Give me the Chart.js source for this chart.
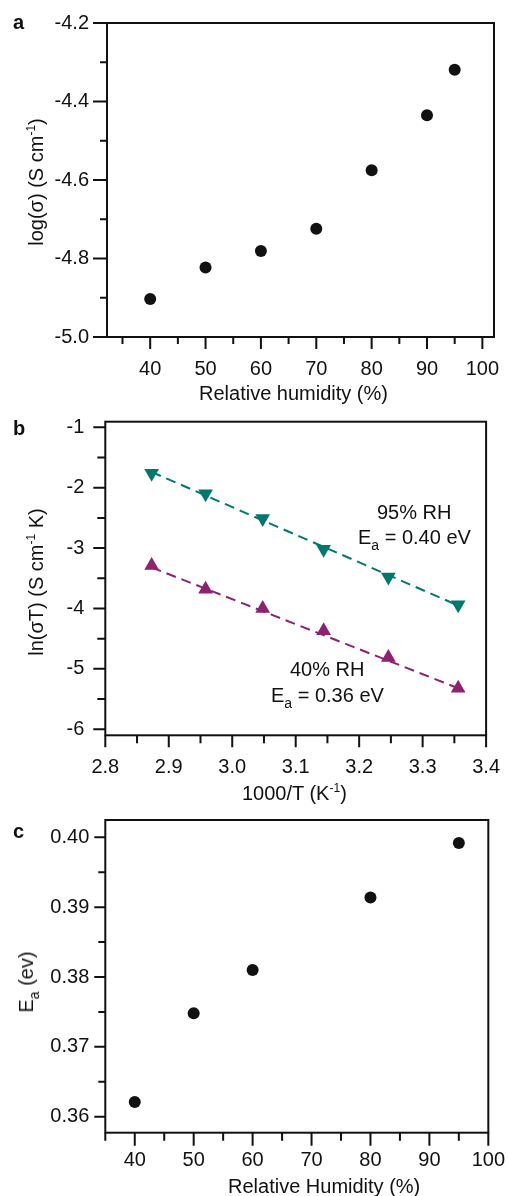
<!DOCTYPE html>
<html>
<head>
<meta charset="utf-8">
<script src="https://cdn.jsdelivr.net/npm/chart.js@4.4.1/dist/chart.umd.min.js"></script>
<style>
  body { margin: 0; background: #fff; font-family: 'Liberation Sans', Arial, sans-serif; color: #111; }
  #page { position: relative; width: 508px; height: 1196px; overflow: hidden; background: #fff; }
  canvas { position: absolute; left: 0; }
  .t { position: absolute; font-size: 20px; line-height: 24px; white-space: nowrap; }
  .rot { transform: translate(-50%, -50%) rotate(-90deg); }
  .lab { position: absolute; font-weight: bold; font-size: 20px; line-height: 24px; }
  sup { font-size: 12px; vertical-align: 8px; line-height: 0; }
  sub { font-size: 14px; vertical-align: -6px; line-height: 0; }
</style>
</head>
<body>
<div id="page">
  <canvas id="chartA" width="508" height="400" style="top:0px"></canvas>
  <canvas id="chartB" width="508" height="400" style="top:400px"></canvas>
  <canvas id="chartC" width="508" height="396" style="top:800px"></canvas>

  <div class="lab" style="left:13px; top:10px">a</div>
  <div class="lab" style="left:13px; top:416px">b</div>
  <div class="lab" style="left:13px; top:819px">c</div>

  <!-- axis titles -->
  <div class="t rot" style="left:36px; top:182px">log(&sigma;) (S cm<sup>-1</sup>)</div>
  <div class="t" style="left:199px; top:381px">Relative humidity (%)</div>

  <div class="t rot" style="left:36px; top:582px">ln(&sigma;T) (S cm<sup>-1</sup> K)</div>
  <div class="t" style="left:242px; top:781px">1000/T (K<sup>-1</sup>)</div>

  <div class="t rot" style="left:26px; top:982px">E<sub>a</sub> (ev)</div>
  <div class="t" style="left:228px; top:1174px">Relative Humidity (%)</div>

  <!-- panel b notes -->
  <div class="t" style="left:377px; top:500px">95% RH</div>
  <div class="t" style="left:358px; top:525px">E<sub>a</sub> = 0.40 eV</div>
  <div class="t" style="left:290px; top:657px">40% RH</div>
  <div class="t" style="left:271px; top:683px">E<sub>a</sub> = 0.36 eV</div>
</div>

<script>
// panel a: log(sigma) vs RH
const rhA = [40, 50, 60, 70, 80, 90, 95];
const logSigma = [-4.903, -4.823, -4.781, -4.724, -4.575, -4.435, -4.319];

// panel b: Arrhenius plot
const invT = [2.873, 2.958, 3.048, 3.144, 3.246, 3.356];
const lnSigmaT95 = [-1.76, -2.10, -2.51, -3.02, -3.48, -3.94];
const lnSigmaT40 = [-3.29, -3.68, -4.00, -4.37, -4.81, -5.32];
// dashed fit lines, end points
const fitX = [2.873, 3.356];
const fit95 = [-1.74, -3.95];
const fit40 = [-3.32, -5.32];

// panel c: Ea vs RH
const rhC = [40, 50, 60, 80, 95];
const ea = [0.3621, 0.3748, 0.3810, 0.3914, 0.3992];

const ink = '#111';
const teal = 'rgb(0, 120, 108)';
const plum = 'rgb(142, 33, 112)';
const tickFont = { family: "'Liberation Sans', Arial, sans-serif", size: 20 };

function pts(xs, ys) {
    return xs.map((x, i) => ({ x: x, y: ys[i] }));
}

function isMajor(v, step) {
    const r = v / step;
    return Math.abs(r - Math.round(r)) < 1e-6;
}

// frame + tick marks (major / minor) drawn from the scales
const frameTicks = {
    id: 'frameTicks',
    afterDraw(chart, args, opts) {
        const { ctx, chartArea: a } = chart;
        const x = chart.scales.x, y = chart.scales.y;
        ctx.save();
        ctx.strokeStyle = ink;
        ctx.lineWidth = 2;
        ctx.strokeRect(a.left, a.top, a.right - a.left, a.bottom - a.top);
        ctx.beginPath();
        x.ticks.forEach(t => {
            const px = x.getPixelForValue(t.value);
            const len = isMajor(t.value, opts.xStep) ? opts.xMajorLen : opts.xMinorLen;
            ctx.moveTo(px, a.bottom);
            ctx.lineTo(px, a.bottom + len);
        });
        y.ticks.forEach(t => {
            const py = y.getPixelForValue(t.value);
            const len = isMajor(t.value, opts.yStep) ? opts.yMajorLen : opts.yMinorLen;
            ctx.moveTo(a.left, py);
            ctx.lineTo(a.left - len, py);
        });
        ctx.stroke();
        ctx.restore();
    }
};

function xScale(min, max, step, major, dec, tickLen, pad, h) {
    return {
        type: 'linear', min: min, max: max,
        grid: { display: true, drawOnChartArea: false, drawTicks: true, tickLength: tickLen, tickColor: 'rgba(0,0,0,0)' },
        border: { display: false },
        ticks: {
            stepSize: step, includeBounds: false, autoSkip: false, maxRotation: 0,
            padding: pad, color: ink, font: tickFont,
            callback: v => isMajor(v, major) ? v.toFixed(dec) : ''
        },
        afterFit: s => { s.height = h; }
    };
}

function yScale(min, max, step, major, dec, tickLen, pad, w) {
    return {
        type: 'linear', min: min, max: max,
        grid: { display: true, drawOnChartArea: false, drawTicks: true, tickLength: tickLen, tickColor: 'rgba(0,0,0,0)' },
        border: { display: false },
        ticks: {
            stepSize: step, includeBounds: false, autoSkip: false,
            padding: pad, color: ink, font: tickFont,
            callback: v => isMajor(v, major) ? v.toFixed(dec) : ''
        },
        afterFit: s => { s.width = w; }
    };
}

const baseOpts = {
    responsive: false,
    animation: false,
    devicePixelRatio: 1,
};

// Panel a
new Chart(document.getElementById('chartA').getContext('2d'), {
    type: 'scatter',
    data: {
        datasets: [{
            data: pts(rhA, logSigma),
            pointRadius: 6,
            backgroundColor: ink,
            borderWidth: 0
        }]
    },
    options: Object.assign({}, baseOpts, {
        layout: { padding: { left: 0, right: 14, top: 23, bottom: 13 } },
        scales: {
            x: xScale(32.2, 102.1, 5, 10, 0, 12, 8, 50),
            y: yScale(-5.0, -4.2, 0.1, 0.2, 1, 14, 4, 107)
        },
        plugins: {
            legend: { display: false },
            tooltip: { enabled: false },
            frameTicks: { xStep: 10, xMajorLen: 12, xMinorLen: 7, yStep: 0.2, yMajorLen: 14, yMinorLen: 7 }
        }
    }),
    plugins: [frameTicks]
});

// Panel b
new Chart(document.getElementById('chartB').getContext('2d'), {
    type: 'scatter',
    data: {
        datasets: [
            {
                label: '95% RH',
                data: pts(invT, lnSigmaT95),
                pointStyle: 'triangle',
                rotation: 180,
                pointRadius: 8.5,
                backgroundColor: teal,
                borderWidth: 0
            },
            {
                label: '40% RH',
                data: pts(invT, lnSigmaT40),
                pointStyle: 'triangle',
                pointRadius: 8.5,
                backgroundColor: plum,
                borderWidth: 0
            },
            {
                label: 'fit 95',
                data: pts(fitX, fit95),
                showLine: true,
                pointRadius: 0,
                borderColor: teal,
                borderWidth: 2,
                borderDash: [10, 6]
            },
            {
                label: 'fit 40',
                data: pts(fitX, fit40),
                showLine: true,
                pointRadius: 0,
                borderColor: plum,
                borderWidth: 2,
                borderDash: [10, 6]
            }
        ]
    },
    options: Object.assign({}, baseOpts, {
        layout: { padding: { left: 0, right: 15.3, top: 21.7, bottom: 14.7 } },
        scales: {
            x: xScale(2.8, 3.4, 0.05, 0.1, 1, 12, 8, 50),
            y: yScale(-6.1, -0.907, 0.5, 1, 0, 12, 9, 105.3)
        },
        plugins: {
            legend: { display: false },
            tooltip: { enabled: false },
            frameTicks: { xStep: 0.1, xMajorLen: 12, xMinorLen: 8, yStep: 1, yMajorLen: 12, yMinorLen: 8 }
        }
    }),
    plugins: [frameTicks]
});

// Panel c
new Chart(document.getElementById('chartC').getContext('2d'), {
    type: 'scatter',
    data: {
        datasets: [{
            data: pts(rhC, ea),
            pointRadius: 6,
            backgroundColor: ink,
            borderWidth: 0
        }]
    },
    options: Object.assign({}, baseOpts, {
        layout: { padding: { left: 0, right: 15.3, top: 20, bottom: 13.3 } },
        scales: {
            x: xScale(35, 100, 5, 10, 0, 13, 3, 50),
            y: yScale(0.35771, 0.40248, 0.005, 0.01, 2, 11, 5, 105.3)
        },
        plugins: {
            legend: { display: false },
            tooltip: { enabled: false },
            frameTicks: { xStep: 10, xMajorLen: 13, xMinorLen: 8, yStep: 0.01, yMajorLen: 11, yMinorLen: 7 }
        }
    }),
    plugins: [frameTicks]
});
</script>
</body>
</html>
